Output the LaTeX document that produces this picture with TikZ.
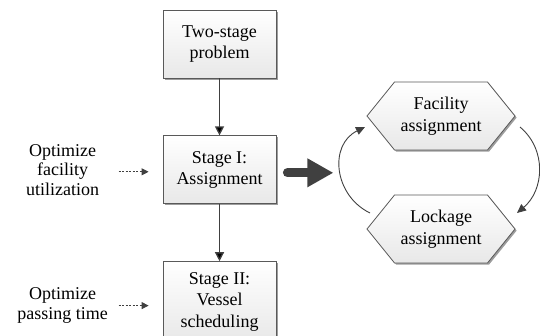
\documentclass[tikz,border=0pt]{standalone}
\usepackage{fontspec}
\setmainfont{Liberation Serif}
\usetikzlibrary{positioning}
\usetikzlibrary{arrows.meta}
\usetikzlibrary{shapes.symbols}
\usetikzlibrary{shadows}

\begin{document}
\begin{tikzpicture}[->,>={Triangle[length=9pt,width=9pt]},node distance=57pt,
	box node/.style={rectangle,draw=black!65,line width=0.8pt,top color=white,bottom color=black!9,minimum width=113pt,minimum height=68pt,align=center,inner sep=4pt,drop shadow={shadow xshift=1.6pt,shadow yshift=-1.6pt,fill=black!55,opacity=0.7},font=\fontsize{18}{21.5}\selectfont},
	hex node/.style={signal,signal to=west and east,signal pointer angle=102,draw=black!65,line width=0.8pt,top color=white,bottom color=black!9,minimum width=148pt,minimum height=68pt,align=center,inner xsep=2pt,drop shadow={shadow xshift=1.6pt,shadow yshift=-1.6pt,fill=black!55,opacity=0.7},font=\fontsize{18}{22}\selectfont},
	side text/.style={align=center,inner sep=0pt,font=\fontsize{18}{19.5}\selectfont},
	flow/.style={draw=black!75,line width=1.3pt},
	goal/.style={draw=black!75,line width=0.9pt,dashed,dash pattern=on 2pt off 1.5pt,>={Triangle[length=7pt,width=7pt]}},
	loop/.style={draw=black!75,line width=0.9pt,>={Triangle[length=9pt,width=8pt]}}]

	\useasboundingbox (0,0) rectangle (540pt,-335pt);

	%the two stages, one below the other
	\begin{scope}
		\node[box node] (box1) at (219.5pt,-44pt) {Two-stage\\problem};
		\node[box node] (box2) [below=of box1] {Stage I:\\Assignment};
		\node[box node, minimum height=80pt] (box3) [below=of box2] {Stage II:\\Vessel\\scheduling};

		\path[flow]
			(box1) edge (box2)
			(box2) edge (box3);
	\end{scope}

	%what each stage optimizes
	\begin{scope}
		\node[side text] (opt1) [left=100pt of box2.west, anchor=center] {Optimize\\facility\\utilization};
		\node[side text] (opt2) [left=100pt of box3.west, anchor=center, yshift=-4pt] {Optimize\\passing time};

		\draw[goal] ([xshift=56pt,yshift=-2pt]opt1.center) -- ([xshift=-14pt,yshift=-2pt]box2.west);
		\draw[goal] ([xshift=56pt]opt2.center) -- ([xshift=-14pt]box3.west |- opt2.center);
	\end{scope}

	%stage I splits into two assignments solved in turn
	\begin{scope}
		\node[hex node] (fac) at (441pt,-116pt) {Facility\\assignment};
		\node[hex node] (lock) at (441pt,-229pt) {Lockage\\assignment};

		\coordinate (loopin) at ([xshift=57pt,yshift=-3pt]box2.east);
		\draw[draw=black!75,line width=9pt,line cap=round,-{Triangle[length=26pt,width=27pt]}]
			([xshift=11pt,yshift=-3pt]box2.east) -- (loopin);

		\draw[loop] ([shift={(-71pt,16pt)}]lock.center) to[out=154,in=206,looseness=1.2] ([shift={(-76pt,-11pt)}]fac.center);
		\draw[loop] ([shift={(79pt,-11pt)}]fac.center) to[out=-40,in=40,looseness=1.05] ([shift={(76pt,16pt)}]lock.center);
	\end{scope}
\end{tikzpicture}
\end{document}
